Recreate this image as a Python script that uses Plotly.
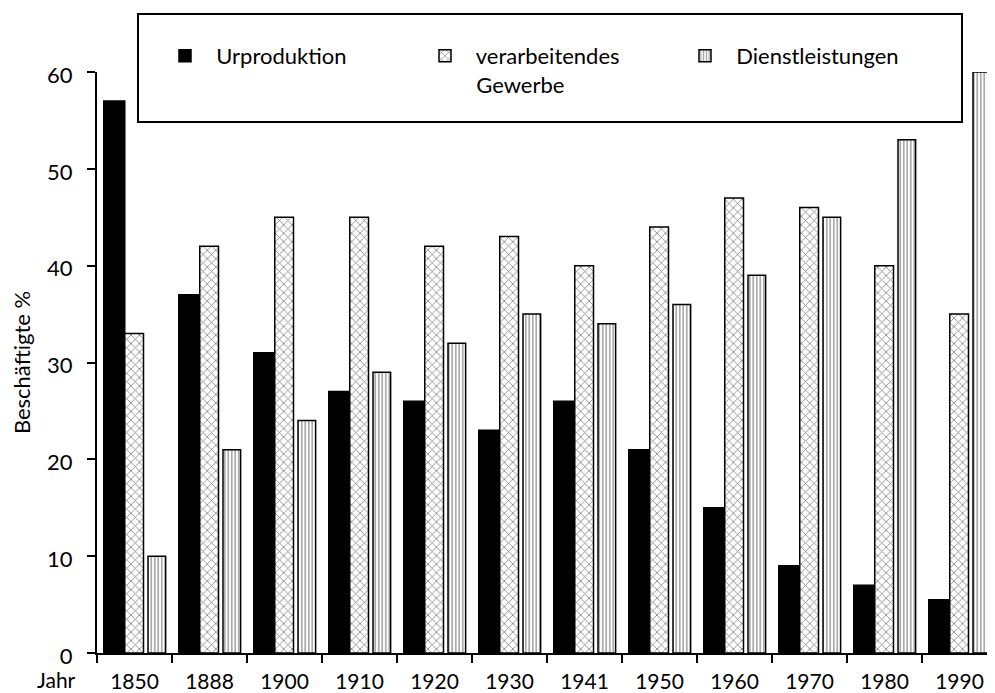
import plotly.graph_objects as go

years = ["1850", "1888", "1900", "1910", "1920", "1930", "1941", "1950", "1960", "1970", "1980", "1990"]
urproduktion = [57, 37, 31, 27, 26, 23, 26, 21, 15, 9, 7, 5.5]
verarbeitendes = [33, 42, 45, 45, 42, 43, 40, 44, 47, 46, 40, 35]
dienstleistungen = [10, 21, 24, 29, 32, 35, 34, 36, 39, 45, 53, 60]
y_ticks = [0, 10, 20, 30, 40, 50, 60]

FONT = "Lato"
NB = "\u00a0\u00a0"

fig = go.Figure()
fig.add_trace(go.Bar(
    x=years, y=urproduktion, name=NB + "Urproduktion",
    offset=-0.41, width=0.28,
    marker=dict(color="black", line=dict(color="black", width=1.5)),
))
fig.add_trace(go.Bar(
    x=years, y=verarbeitendes, name=NB + "verarbeitendes<br>" + NB + "Gewerbe",
    offset=-0.13, width=0.25,
    marker=dict(color="white", line=dict(color="black", width=1.5),
                pattern=dict(shape="x", fgcolor="black", bgcolor="white", size=6, solidity=0.25)),
))
fig.add_trace(go.Bar(
    x=years, y=dienstleistungen, name=NB + "Dienstleistungen",
    offset=0.18, width=0.235,
    marker=dict(color="white", line=dict(color="black", width=1.5),
                pattern=dict(shape="|", fgcolor="#444444", bgcolor="white", size=3.5, solidity=0.45)),
))

# the page body adds an 8px offset, so layout is expressed in figure coords
W, H = 995, 693
L, T, B = 89, 64, 48
pw = W - L
ph = H - T - B
CAT = 75.0
xmax = -0.5 + pw / CAT

def px_x(x):
    return (x - L) / pw

def px_y(y):
    return (H - B - y) / ph

fig.update_layout(
    width=W, height=H,
    margin=dict(l=L, r=0, t=T, b=B),
    paper_bgcolor="white", plot_bgcolor="white",
    barmode="overlay",
    font=dict(family=FONT, size=21, color="black"),
    showlegend=True,
    legend=dict(
        orientation="h", x=px_x(157), y=px_y(27), xanchor="left", yanchor="top",
        entrywidth=215, entrywidthmode="pixels", valign="top",
        bgcolor="rgba(0,0,0,0)", borderwidth=0,
        font=dict(family=FONT, size=22, color="black"),
        traceorder="normal",
    ),
    shapes=[dict(type="rect", xref="paper", yref="paper",
                 x0=px_x(130), x1=px_x(954), y0=px_y(114), y1=px_y(6),
                 line=dict(color="black", width=2), fillcolor="white", layer="below")],
    annotations=[
        dict(text="Jahr", xref="paper", yref="paper", x=px_x(70), y=px_y(671),
             xanchor="right", yanchor="middle", showarrow=False,
             font=dict(family=FONT, size=21, color="black")),
    ],
)

fig.update_xaxes(
    type="category", range=[-0.5, xmax],
    showline=True, linecolor="black", linewidth=2,
    ticks="outside", tickson="boundaries", ticklen=8, tickwidth=2, tickcolor="black",
    ticklabelstandoff=9,
    showgrid=False, zeroline=False,
    tickfont=dict(family=FONT, size=21, color="black"),
)
fig.update_yaxes(
    range=[0, 60], tickvals=y_ticks,
    showline=True, linecolor="black", linewidth=2,
    ticks="outside", ticklen=8, tickwidth=2, tickcolor="black",
    ticklabelstandoff=10, ticklabelshift=3,
    showgrid=False, zeroline=False,
    tickfont=dict(family=FONT, size=22, color="black"),
    title=dict(text="Beschäftigte %", standoff=20,
               font=dict(family=FONT, size=22, color="black")),
)

fig.write_html("out.html")
